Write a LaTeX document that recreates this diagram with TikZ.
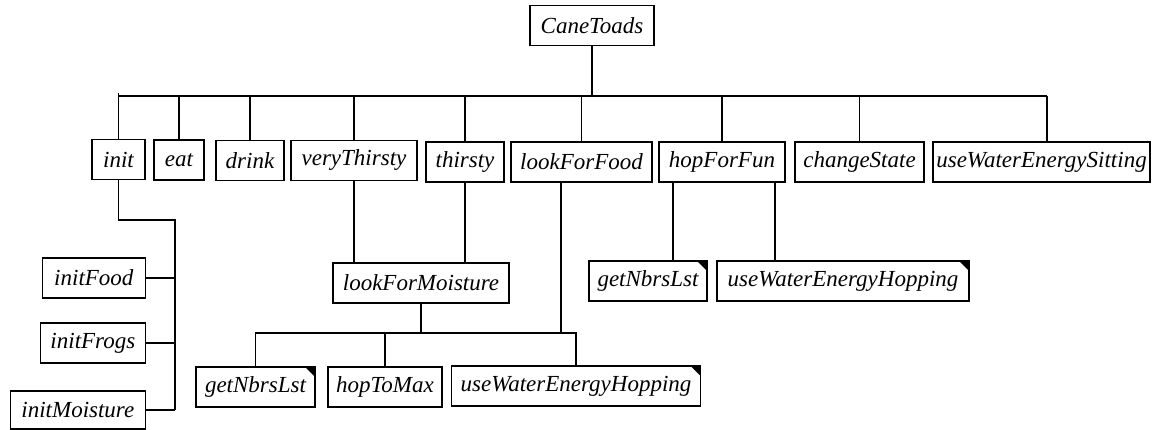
\documentclass[tikz,border=0pt]{standalone}
\usepackage{fontspec}
\setmainfont{Liberation Serif}
\usepackage{tikz}

\tikzset{
  fn/.style={draw, line width=1.3pt, minimum height=40, inner xsep=3pt, inner ysep=0pt,
             font=\fontsize{23}{27}\selectfont\itshape},
  lib/.style={fn, path picture={\fill (path picture bounding box.north east) -- ++(-10pt,0pt) -- ++(10pt,-10pt) -- cycle;}},
  wire/.style={line width=1.3pt}
}

\begin{document}
\begin{tikzpicture}[x=1pt,y=-1pt]
  \useasboundingbox (0,0) rectangle (1156,430);

  \node[fn, minimum width=124] (cane) at (592,25.5) {CaneToads};

  \node[fn, minimum width=53] (init) at (118.5,159.5) {init};
  \node[fn, minimum width=50] (eat) at (179,160) {eat};
  \node[fn, minimum width=68] (drink) at (250,160.5) {drink};
  \node[fn, minimum width=126] (vthirsty) at (354,160.5) {veryThirsty};
  \node[fn, minimum width=78] (thirsty) at (465,162) {thirsty};
  \node[fn, minimum width=141] (food) at (581.5,162) {lookForFood};
  \node[fn, minimum width=126] (hop) at (722,162) {hopForFun};
  \node[fn, minimum width=129] (state) at (859.5,162) {changeState};
  \node[fn, minimum width=217] (sitting) at (1041.5,162) {useWaterEnergySitting};

  \node[fn, anchor=east, minimum width=103] (ifood) at (146,278) {initFood};
  \node[fn, anchor=east, minimum width=105] (ifrogs) at (146,343) {initFrogs};
  \node[fn, anchor=east, minimum width=135, minimum height=38] (imoist) at (146,410) {initMoisture};

  \node[fn, minimum width=176] (moist) at (421,283) {lookForMoisture};

  \node[lib, minimum width=118] (nbrsA) at (648,281) {getNbrsLst};
  \node[lib, minimum width=252] (hoppingA) at (843,281) {useWaterEnergyHopping};

  \node[lib, minimum width=119] (nbrsB) at (255.5,387) {getNbrsLst};
  \node[fn, minimum width=114] (maxhop) at (385,387) {hopToMax};
  \node[lib, minimum width=249] (hoppingB) at (576,386) {useWaterEnergyHopping};

  \coordinate (bus) at (592,96);
  \coordinate (ibus) at (175,220);
  \coordinate (mbus) at (421,333);

  \draw[wire] (cane.south) -- (cane.south |- bus);
  \draw[wire] (bus -| init.north) -- ([xshift=5.5pt]sitting.north |- bus);
  \draw[wire] ([yshift=3pt]bus -| init.north) -- (init.north);
  \foreach \n in {eat,drink,vthirsty,thirsty,food,hop,state}
    \draw[wire] (bus -| \n.north) -- (\n.north);
  \draw[wire] ([xshift=5.5pt]sitting.north |- bus) -- ([xshift=5.5pt]sitting.north);

  \draw[wire] (init.south) |- (ibus) -- (ibus |- imoist.east);
  \foreach \n in {ifood,ifrogs,imoist}
    \draw[wire] (\n.east) -- (\n.east -| ibus);

  \draw[wire] (vthirsty.south) -- (vthirsty.south |- moist.north);
  \draw[wire] (thirsty.south) -- (thirsty.south |- moist.north);
  \draw[wire] (moist.south) -- (mbus);
  \draw[wire] (nbrsB.north) |- (mbus) -| (hoppingB.north);
  \draw[wire] (maxhop.north) -- (maxhop.north |- mbus);
  \draw[wire] ([xshift=-20.5pt]food.south) -- ([xshift=-20.5pt]food.south |- mbus);

  \draw[wire] ([xshift=-49pt]hop.south) -- ([xshift=-49pt]hop.south |- nbrsA.north);
  \draw[wire] ([xshift=53pt]hop.south) -- ([xshift=53pt]hop.south |- hoppingA.north);
\end{tikzpicture}
\end{document}
